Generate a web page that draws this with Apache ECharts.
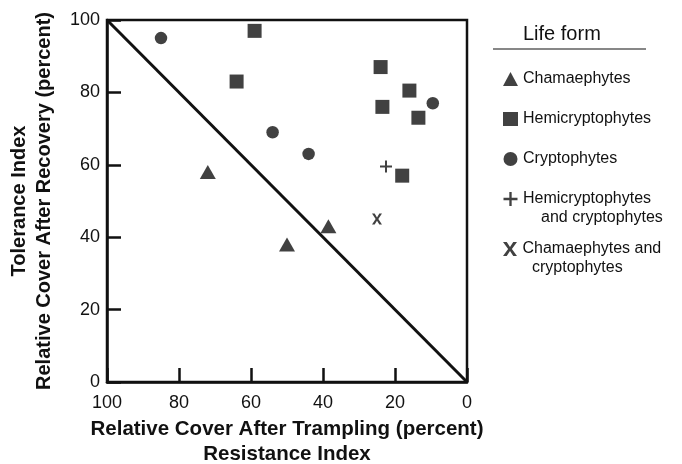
<!DOCTYPE html>
<html>
<head>
<meta charset="utf-8">
<script src="https://cdn.jsdelivr.net/npm/echarts@6/dist/echarts.min.js"></script>
<style>
  html, body { margin: 0; padding: 0; background: #fff; }
  #chart { width: 682px; height: 464px; }
</style>
</head>
<body>
<div id="chart"></div>
<script>
// Resistance index (x, relative cover after trampling) and tolerance index (y, relative cover after recovery)
const chamaephytes = [[72, 58], [50, 38], [38.5, 43]];
const hemicryptophytes = [[59, 97], [64, 83], [24, 87], [16, 80.5], [23.5, 76], [13.5, 73], [18, 57]];
const cryptophytes = [[85, 95], [54, 69], [44, 63], [9.5, 77]];
const hemiAndCrypto = [[22.5, 59.5]];
const chamaeAndCrypto = [[25, 45]];
// 1:1 reference line
const diagonal = [[100, 100], [0, 0]];

const xTicks = [0, 20, 40, 60, 80, 100];
const yTicks = [0, 20, 40, 60, 80, 100];

const FONT = '"Liberation Sans", Arial, Helvetica, sans-serif';
const INK = '#111';

const plusPath = 'path://M5,0 L7,0 L7,5 L12,5 L12,7 L7,7 L7,12 L5,12 L5,7 L0,7 L0,5 L5,5 Z';
const crossPath = 'path://M0,0 L3.2,0 L6,4.2 L8.8,0 L12,0 L7.6,6 L12,12 L8.8,12 L6,7.8 L3.2,12 L0,12 L4.4,6 Z';

const firstLine = {
  'Chamaephytes': 'Chamaephytes',
  'Hemicryptophytes': 'Hemicryptophytes',
  'Cryptophytes': 'Cryptophytes',
  'Hemicryptophytes and cryptophytes': 'Hemicryptophytes',
  'Chamaephytes and cryptophytes': 'Chamaephytes and'
};

const chart = echarts.init(document.getElementById('chart'), null, { renderer: 'canvas' });

const legendBase = {
  orient: 'vertical',
  left: 498,
  itemWidth: 15,
  itemHeight: 14,
  itemGap: 20,
  selectedMode: false,
  formatter: name => firstLine[name],
  textStyle: { fontFamily: FONT, fontSize: 16, color: INK, lineHeight: 20 },
  itemStyle: { color: INK }
};

chart.setOption({
  animation: false,
  backgroundColor: '#fff',
  textStyle: { fontFamily: FONT },
  grid: {
    left: 107, right: 215, top: 20, bottom: 82,
    outerBoundsMode: 'none',
    containLabel: false,
    show: true, borderColor: INK, borderWidth: 2.5
  },
  xAxis: {
    type: 'value',
    inverse: true,
    min: 0, max: 100, interval: 20,
    axisLine: { show: true, onZero: false, lineStyle: { color: INK, width: 2.5 } },
    axisTick: { show: true, inside: true, length: 14, lineStyle: { color: INK, width: 2.5 } },
    splitLine: { show: false },
    axisLabel: {
      margin: 12, fontSize: 18, color: INK, fontFamily: FONT,
      formatter: v => xTicks.includes(v) ? String(v) : ''
    },
    name: 'Relative Cover After Trampling (percent)\nResistance Index',
    nameLocation: 'middle',
    nameGap: 30,
    nameTextStyle: { fontSize: 20.5, fontWeight: 'bold', color: INK, lineHeight: 25, fontFamily: FONT }
  },
  yAxis: {
    type: 'value',
    min: 0, max: 100, interval: 20,
    axisLine: { show: true, onZero: false, lineStyle: { color: INK, width: 2.5 } },
    axisTick: { show: true, inside: true, length: 14, lineStyle: { color: INK, width: 2.5 } },
    splitLine: { show: false },
    axisLabel: {
      margin: 7, fontSize: 18, color: INK, fontFamily: FONT,
      formatter: v => yTicks.includes(v) ? String(v) : ''
    },
    name: 'Tolerance Index\nRelative Cover After Recovery (percent)',
    nameLocation: 'middle',
    nameGap: 50,
    nameRotate: 90,
    nameTextStyle: { fontSize: 20, fontWeight: 'bold', color: INK, lineHeight: 25, fontFamily: FONT }
  },
  legend: [
    Object.assign({}, legendBase, {
      top: 64,
      data: [
        { name: 'Chamaephytes', icon: 'triangle' },
        { name: 'Hemicryptophytes', icon: 'rect' },
        { name: 'Cryptophytes', icon: 'circle' },
        { name: 'Hemicryptophytes and cryptophytes', icon: plusPath }
      ]
    }),
    Object.assign({}, legendBase, {
      top: 234,
      data: [
        { name: 'Chamaephytes and cryptophytes', icon: crossPath }
      ]
    })
  ],
  graphic: [
    {
      type: 'text', left: 523, top: 24,
      style: { text: 'Life form', font: '20px ' + FONT, fill: INK }
    },
    {
      type: 'line',
      shape: { x1: 493, y1: 49, x2: 646, y2: 49 },
      style: { stroke: INK, lineWidth: 1.2 }
    },
    {
      type: 'text', left: 541, top: 210,
      style: { text: 'and cryptophytes', font: '16px ' + FONT, fill: INK }
    },
    {
      type: 'text', left: 532, top: 260,
      style: { text: 'cryptophytes', font: '16px ' + FONT, fill: INK }
    }
  ],
  series: [
    {
      name: 'Reference line', type: 'line', data: diagonal,
      showSymbol: false, symbol: 'none', silent: true,
      lineStyle: { color: INK, width: 3 }, z: 1
    },
    {
      name: 'Chamaephytes', type: 'scatter', data: chamaephytes,
      symbol: 'triangle', symbolSize: [16, 14], itemStyle: { color: INK }, z: 3
    },
    {
      name: 'Hemicryptophytes', type: 'scatter', data: hemicryptophytes,
      symbol: 'rect', symbolSize: 14, itemStyle: { color: INK }, z: 3
    },
    {
      name: 'Cryptophytes', type: 'scatter', data: cryptophytes,
      symbol: 'circle', symbolSize: 12.5, itemStyle: { color: INK }, z: 3
    },
    {
      name: 'Hemicryptophytes and cryptophytes', type: 'scatter', data: hemiAndCrypto,
      symbol: plusPath, symbolSize: 12, itemStyle: { color: INK }, z: 3
    },
    {
      name: 'Chamaephytes and cryptophytes', type: 'scatter', data: chamaeAndCrypto,
      symbol: crossPath, symbolSize: [10, 11], itemStyle: { color: INK }, z: 3
    }
  ]
});
</script>
</body>
</html>
